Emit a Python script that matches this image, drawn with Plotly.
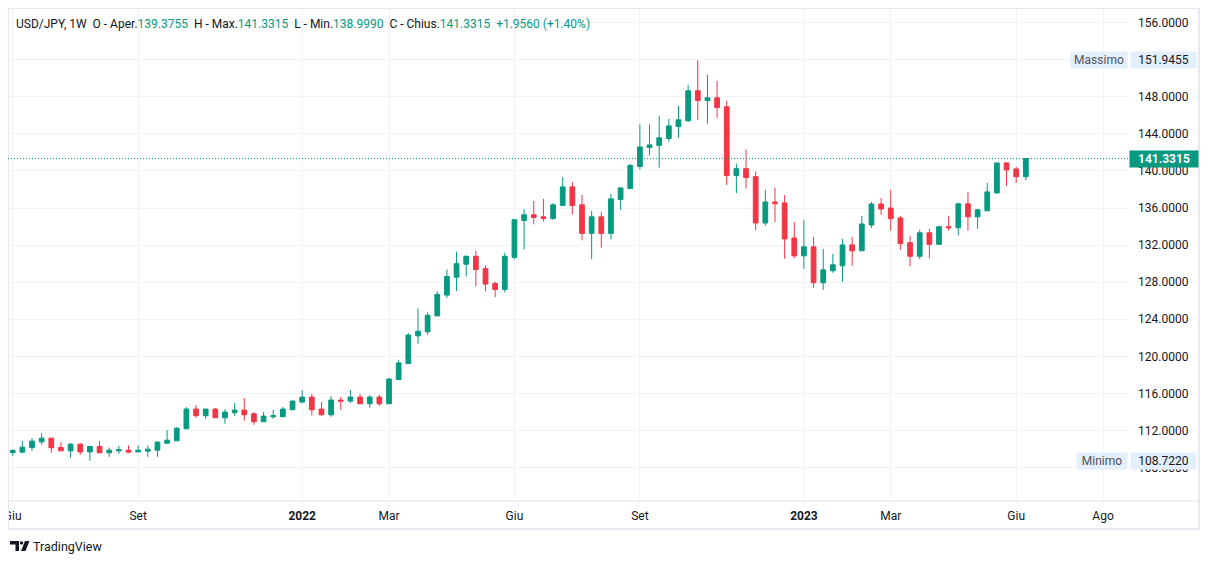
import pandas as pd
import plotly.graph_objects as go

# ---------------- data (weekly USD/JPY) ----------------
dates = pd.date_range("2021-06-07", periods=106, freq="W-MON")

open_ = [109.62, 109.66, 110.15, 110.77, 111.17, 110.16, 109.80, 110.52, 109.69, 110.27,
         109.59, 109.80, 109.87, 109.69, 109.77, 109.87, 110.63, 110.88, 112.18, 114.31,
         113.59, 114.31, 113.37, 113.91, 114.20, 113.80, 112.94, 113.48, 113.48, 114.23,
         115.06, 115.60, 114.31, 113.69, 115.28, 115.17, 115.60, 114.88, 115.60, 114.88,
         117.50, 119.21, 122.21, 122.64, 124.36, 126.61, 128.54, 129.93, 130.79, 129.46,
         127.86, 127.21, 130.68, 134.66, 135.27, 135.05, 134.87, 136.27, 138.28, 136.34,
         133.26, 135.05, 133.26, 136.92, 138.10, 140.47, 142.52, 142.74, 143.50, 144.79,
         145.41, 148.65, 147.60, 147.89, 146.92, 139.50, 140.25, 139.39, 134.38, 136.65,
         136.54, 132.77, 130.84, 131.81, 127.94, 129.23, 129.76, 132.02, 131.38, 134.17,
         136.43, 136.00, 134.93, 132.26, 130.79, 133.33, 132.08, 133.98, 133.87, 136.45,
         135.05, 135.70, 137.63, 140.86, 140.22, 139.3755]
high = [109.95, 110.88, 111.17, 111.71, 111.20, 110.74, 110.63, 110.63, 110.38, 110.85,
        110.16, 110.34, 110.38, 110.38, 110.38, 110.85, 112.04, 112.36, 114.52, 114.74,
        114.31, 114.41, 114.31, 114.95, 115.50, 113.98, 113.98, 114.23, 114.52, 115.24,
        116.36, 115.93, 115.06, 115.71, 115.60, 116.36, 115.93, 115.82, 115.82, 117.66,
        119.61, 122.50, 125.18, 124.75, 127.00, 129.36, 131.29, 130.86, 131.39, 129.79,
        128.07, 131.18, 134.84, 135.88, 136.77, 136.99, 136.52, 139.35, 138.82, 137.42,
        135.70, 135.59, 137.53, 138.17, 140.75, 145.01, 145.01, 145.95, 145.62, 147.03,
        149.30, 151.9455, 150.38, 149.73, 147.57, 140.79, 142.31, 139.93, 137.95, 138.20,
        137.40, 134.49, 134.71, 132.88, 131.59, 131.05, 132.67, 132.88, 135.14, 136.65,
        137.08, 137.95, 135.15, 133.01, 133.66, 133.76, 134.09, 135.16, 136.56, 137.74,
        135.91, 138.71, 140.86, 140.97, 140.43, 141.3315]
low = [109.26, 109.60, 109.80, 110.45, 109.59, 109.80, 109.05, 109.37, 108.722, 109.59,
       109.15, 109.48, 109.55, 109.69, 109.15, 109.15, 110.52, 110.88, 112.18, 113.37,
       113.26, 113.37, 112.72, 113.59, 113.05, 112.61, 112.94, 113.26, 113.48, 114.23,
       114.94, 113.59, 113.59, 113.48, 114.23, 114.95, 114.88, 114.45, 114.67, 114.88,
       117.50, 119.21, 121.36, 122.32, 124.36, 126.29, 127.04, 128.61, 127.57, 127.00,
       126.39, 126.89, 130.47, 131.54, 134.23, 134.52, 134.73, 136.27, 135.30, 132.51,
       130.47, 131.72, 132.62, 135.81, 138.10, 140.14, 141.66, 140.36, 143.17, 143.57,
       145.30, 145.51, 145.08, 145.73, 138.49, 137.62, 138.09, 133.62, 134.09, 134.49,
       130.52, 130.59, 129.44, 127.40, 127.18, 129.01, 128.04, 129.76, 131.38, 133.85,
       135.25, 133.55, 131.50, 129.71, 130.47, 130.57, 132.08, 133.55, 133.05, 133.55,
       133.76, 135.70, 137.53, 138.39, 138.71, 138.999]
close = [109.84, 110.20, 110.85, 111.17, 110.13, 109.80, 110.52, 109.69, 110.27, 109.59,
         109.87, 109.91, 109.66, 109.87, 109.98, 110.74, 110.95, 112.25, 114.31, 113.59,
         114.31, 113.37, 113.98, 114.20, 113.69, 112.94, 113.55, 113.59, 114.31, 115.17,
         115.60, 114.23, 113.69, 115.28, 115.17, 115.60, 114.88, 115.60, 114.88, 117.55,
         119.29, 122.29, 122.71, 124.43, 126.68, 128.61, 130.00, 130.79, 129.36, 127.79,
         127.21, 130.79, 134.73, 135.27, 134.98, 134.87, 136.34, 138.28, 136.27, 133.26,
         135.05, 133.26, 136.99, 138.17, 140.60, 142.59, 142.81, 143.57, 144.86, 145.51,
         148.65, 147.60, 147.89, 146.85, 139.50, 140.25, 139.28, 134.38, 136.65, 136.47,
         132.67, 130.84, 131.81, 127.94, 129.33, 129.87, 132.02, 131.38, 134.28, 136.43,
         135.89, 134.85, 132.16, 130.79, 133.33, 132.08, 133.98, 133.87, 136.45, 135.05,
         135.81, 137.74, 140.86, 140.11, 139.3755, 141.3315]

y_ticks = [108, 112, 116, 120, 124, 128, 132, 136, 140, 144, 148, 152, 156]
x_tick_dates = ["2021-06-07", "2021-09-06", "2022-01-03", "2022-03-07", "2022-06-06",
                "2022-09-05", "2023-01-02", "2023-03-06", "2023-06-05", "2023-08-07"]
x_tick_labels = ["Giu", "Set", "<b>2022</b>", "Mar", "Giu", "Set", "<b>2023</b>", "Mar", "Giu", "Ago"]

symbol = "USD/JPY, 1W"
max_label, min_label = "Massimo", "Minimo"

# ---------------- styling ----------------
PAGE_W, PAGE_H = 1209, 564
OFF = 8                      # default body margin of the html page
W, H = PAGE_W - 2 * OFF, PAGE_H - 2 * OFF
# plot area, in page pixels
L_PX, R_PX, T_PX, B_PX = 8, 1129, 8, 501
UP, DOWN = "#089981", "#F23645"
TXT = "#131722"
GRID = "#f0f3fa"
FONT = "Roboto"


def px_x(px):
    return (px - L_PX) / (R_PX - L_PX)


def px_y(py):
    return (B_PX - py) / (B_PX - T_PX)


fig = go.Figure(go.Candlestick(
    x=dates, open=open_, high=high, low=low, close=close,
    increasing=dict(line=dict(color=UP, width=1), fillcolor=UP),
    decreasing=dict(line=dict(color=DOWN, width=1), fillcolor=DOWN),
    whiskerwidth=0, hoverinfo="skip", showlegend=False,
))

last = len(close) - 1
chg = close[last] - close[last - 1]
pct = chg / close[last - 1] * 100
g = lambda v: f"<span style='color:{UP}'>{v}</span>"
sp = "\u00a0\u00a0"
header = (f"{symbol}{sp}O - Aper.{g(f'{open_[last]:.4f}')}{sp}H - Max.{g(f'{high[last]:.4f}')}"
          f"{sp}L - Min.{g(f'{low[last]:.4f}')}{sp}C - Chius.{g(f'{close[last]:.4f}')}"
          f"{sp}{g(f'{chg:+.4f} ({pct:+.2f}%)')}")

ymax, ymin = max(high), min(low)

annotations = [
    dict(text=header, xref="paper", yref="paper", x=px_x(14), y=px_y(24),
         xanchor="left", yanchor="middle", showarrow=False,
         font=dict(family=FONT, size=12, color=TXT)),
    # max badge
    dict(text=max_label, xref="paper", yref="y", x=1, y=ymax, xshift=-1,
         xanchor="right", yanchor="middle", showarrow=False, width=56, height=16,
         bgcolor="#e3effd", borderpad=0, font=dict(family=FONT, size=12, color="#50535e")),
    dict(text=f"{ymax:.4f}", xref="paper", yref="y", x=1, y=ymax, xshift=1,
         xanchor="left", yanchor="middle", showarrow=False, width=65, height=16,
         bgcolor="#e3effd", borderpad=0, font=dict(family=FONT, size=12, color=TXT)),
    # min badge
    dict(text=min_label, xref="paper", yref="y", x=1, y=ymin, xshift=-1,
         xanchor="right", yanchor="middle", showarrow=False, width=50, height=16,
         bgcolor="#e3effd", borderpad=0, font=dict(family=FONT, size=12, color="#50535e")),
    dict(text=f"{ymin:.4f}", xref="paper", yref="y", x=1, y=ymin, xshift=1,
         xanchor="left", yanchor="middle", showarrow=False, width=65, height=16,
         bgcolor="#e3effd", borderpad=0, font=dict(family=FONT, size=12, color=TXT)),
    # last price badge
    dict(text=f"<b>{close[last]:.4f}</b>", xref="paper", yref="y", x=1, y=close[last],
         xanchor="left", yanchor="middle", showarrow=False, width=68, height=16,
         bgcolor=UP, borderpad=0, font=dict(family=FONT, size=12, color="white")),
    # footer
    dict(text="TradingView", xref="paper", yref="paper", x=px_x(31), y=px_y(546),
         xanchor="left", yanchor="middle", showarrow=False,
         font=dict(family=FONT, size=12.5, color=TXT)),
]

shapes = [
    # outer frame
    dict(type="rect", xref="paper", yref="paper", x0=px_x(8), x1=px_x(1199),
         y0=px_y(529), y1=px_y(8), line=dict(color="#e6e9ef", width=2), layer="above"),
    # time axis line
    dict(type="line", xref="paper", yref="paper", x0=px_x(8), x1=px_x(1199),
         y0=px_y(501), y1=px_y(501), line=dict(color="#e0e3eb", width=1)),
    # last price line
    dict(type="line", xref="paper", yref="y", x0=0, x1=1, y0=close[last], y1=close[last],
         line=dict(color=UP, width=1, dash="1px,2px")),
    # TradingView logo (approx.)
    dict(type="path", xref="paper", yref="paper", fillcolor=TXT, line=dict(width=0),
         path=(f"M {px_x(10)},{px_y(541)} L {px_x(19)},{px_y(541)} L {px_x(19)},{px_y(551)} "
               f"L {px_x(15.5)},{px_y(551)} L {px_x(15.5)},{px_y(544.5)} L {px_x(10)},{px_y(544.5)} Z")),
    dict(type="circle", xref="paper", yref="paper", fillcolor=TXT, line=dict(width=0),
         x0=px_x(19.8), x1=px_x(23.2), y0=px_y(544.6), y1=px_y(541.2)),
    dict(type="path", xref="paper", yref="paper", fillcolor=TXT, line=dict(width=0),
         path=(f"M {px_x(25)},{px_y(541)} L {px_x(29.5)},{px_y(541)} L {px_x(25.5)},{px_y(551)} "
               f"L {px_x(21)},{px_y(551)} Z")),
]

fig.update_layout(
    width=W, height=H,
    margin=dict(l=L_PX - OFF, r=(OFF + W) - R_PX, t=T_PX - OFF, b=(OFF + H) - B_PX, pad=0),
    paper_bgcolor="white", plot_bgcolor="white",
    font=dict(family=FONT, size=12, color=TXT),
    showlegend=False,
    annotations=annotations, shapes=shapes,
    xaxis=dict(
        type="date", range=["2021-06-03 14:00", "2023-08-25 20:00"],
        rangeslider=dict(visible=False), automargin=False,
        tickvals=x_tick_dates, ticktext=x_tick_labels,
        showgrid=True, gridcolor=GRID, gridwidth=1, zeroline=False,
        showline=False, ticks="", ticklabelstandoff=6, ticklabeloverflow="allow",
        tickfont=dict(family=FONT, size=12, color=TXT),
    ),
    yaxis=dict(
        side="right", range=[104.39, 157.58], automargin=False,
        tickvals=y_ticks, ticktext=[f"{v:.4f}" for v in y_ticks],
        showgrid=True, gridcolor=GRID, gridwidth=1, zeroline=False,
        showline=False, ticks="", ticklabelstandoff=8,
        tickfont=dict(family=FONT, size=12, color=TXT),
    ),
)

fig.write_html("out.html", config={"displayModeBar": False})
